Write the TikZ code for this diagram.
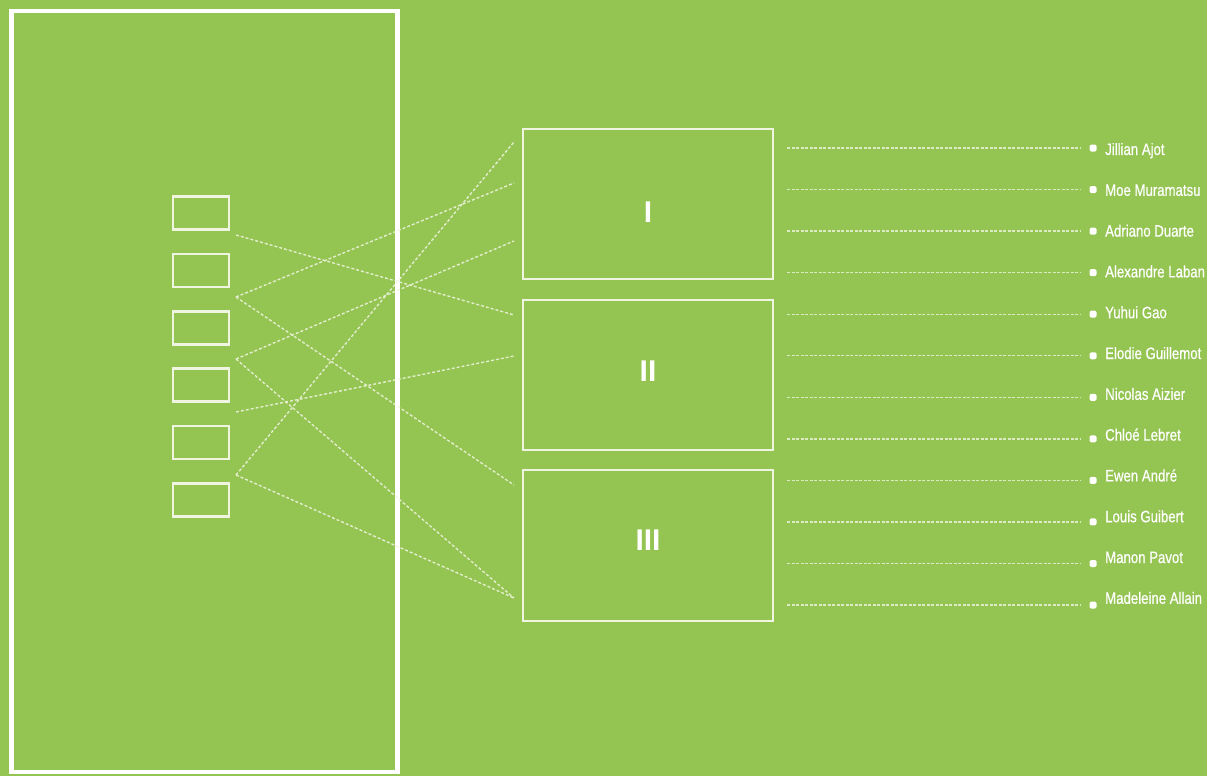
\documentclass[tikz,border=0pt]{standalone}
\usepackage{fontspec}
\setmainfont{Liberation Sans}
\newfontfamily\namefont[FakeStretch=0.8,FakeBold=0.6]{Liberation Sans}
\definecolor{bggreen}{RGB}{148,196,81}
\definecolor{lineW}{RGB}{240,245,225}
\begin{document}
\begin{tikzpicture}[x=1pt,y=-1pt,
  bigframe/.style={draw=white,line width=4.5pt,minimum width=386pt,minimum height=761pt,inner sep=0pt},
  smallbox/.style={draw=lineW,line width=2.5pt,minimum width=56pt,minimum height=33pt,inner sep=0pt},
  bigbox/.style={draw=lineW,line width=2.5pt,minimum width=250pt,minimum height=150pt,inner sep=0pt},
  numeral/.style={text=white,font=\bfseries\fontsize{30}{30}\selectfont,inner sep=0pt},
  conn/.style={draw=lineW,line width=1.4pt,dash pattern=on 3pt off 2pt,opacity=0.85},
  hline/.style={draw=lineW,line width=1.4pt,dash pattern=on 3pt off 1.5pt,opacity=0.8},
  dotbox/.style={fill=white,rounded corners=1.5pt,minimum size=7pt,inner sep=0pt},
  persontext/.style={text=white,font=\namefont\fontsize{16.5}{16.5}\selectfont,anchor=base west,inner sep=0pt}]
\fill[bggreen] (0,0) rectangle (1207,776);
\useasboundingbox (0,0) rectangle (1207,776);
% left frame
\node[bigframe] (frame) at (204.5,391.5) {};
% small boxes
\foreach \i in {1,...,6}{
  \node[smallbox] (s\i) at (201,{213+57.4*(\i-1)}) {};
}
% gap points
\coordinate (g1) at (236,235);
\coordinate (g2) at (236,297);
\coordinate (g3) at (236,359);
\coordinate (g4) at (236,412);
\coordinate (g5) at (236,475);
% big boxes
\node[bigbox] (b1) at (648,204) {};
\node[bigbox] (b2) at (648,375) {};
\node[bigbox,minimum height=151pt] (b3) at (648,545.5) {};
\node[numeral] (n1) at (648,212) {I};
\node[numeral] (n2) at (648,371.5) {II};
\node[numeral] (n3) at (648,540.5) {III};
% entry points
\coordinate (e1) at (514,142);
\coordinate (e2) at (514,183);
\coordinate (e3) at (514,241);
\coordinate (e4) at (514,315);
\coordinate (e5) at (514,356);
\coordinate (e6) at (514,485);
\coordinate (e7) at (514,598);
\draw[conn] (g1) -- (e4);
\draw[conn] (g2) -- (e2);
\draw[conn] (g2) -- (e6);
\draw[conn] (g3) -- (e3);
\draw[conn] (g3) -- (e7);
\draw[conn] (g4) -- (e5);
\draw[conn] (g5) -- (e1);
\draw[conn] (g5) -- (e7);
% names
\foreach \nm [count=\i from 0] in {Jillian Ajot,Moe Muramatsu,Adriano Duarte,Alexandre Laban,Yuhui Gao,Elodie Guillemot,Nicolas Aizier,Chloé Lebret,Ewen André,Louis Guibert,Manon Pavot,Madeleine Allain}{
  \coordinate (l\i) at (787,{148+41.55*\i});
  \node[dotbox] (d\i) at (1093,{148+41.55*\i}) {};
  \draw[hline] (l\i) -- ([xshift=-13pt]d\i.center);
  \node[persontext] (t\i) at (1105,{155+40.8*\i}) {\nm};
}
\end{tikzpicture}
\end{document}
